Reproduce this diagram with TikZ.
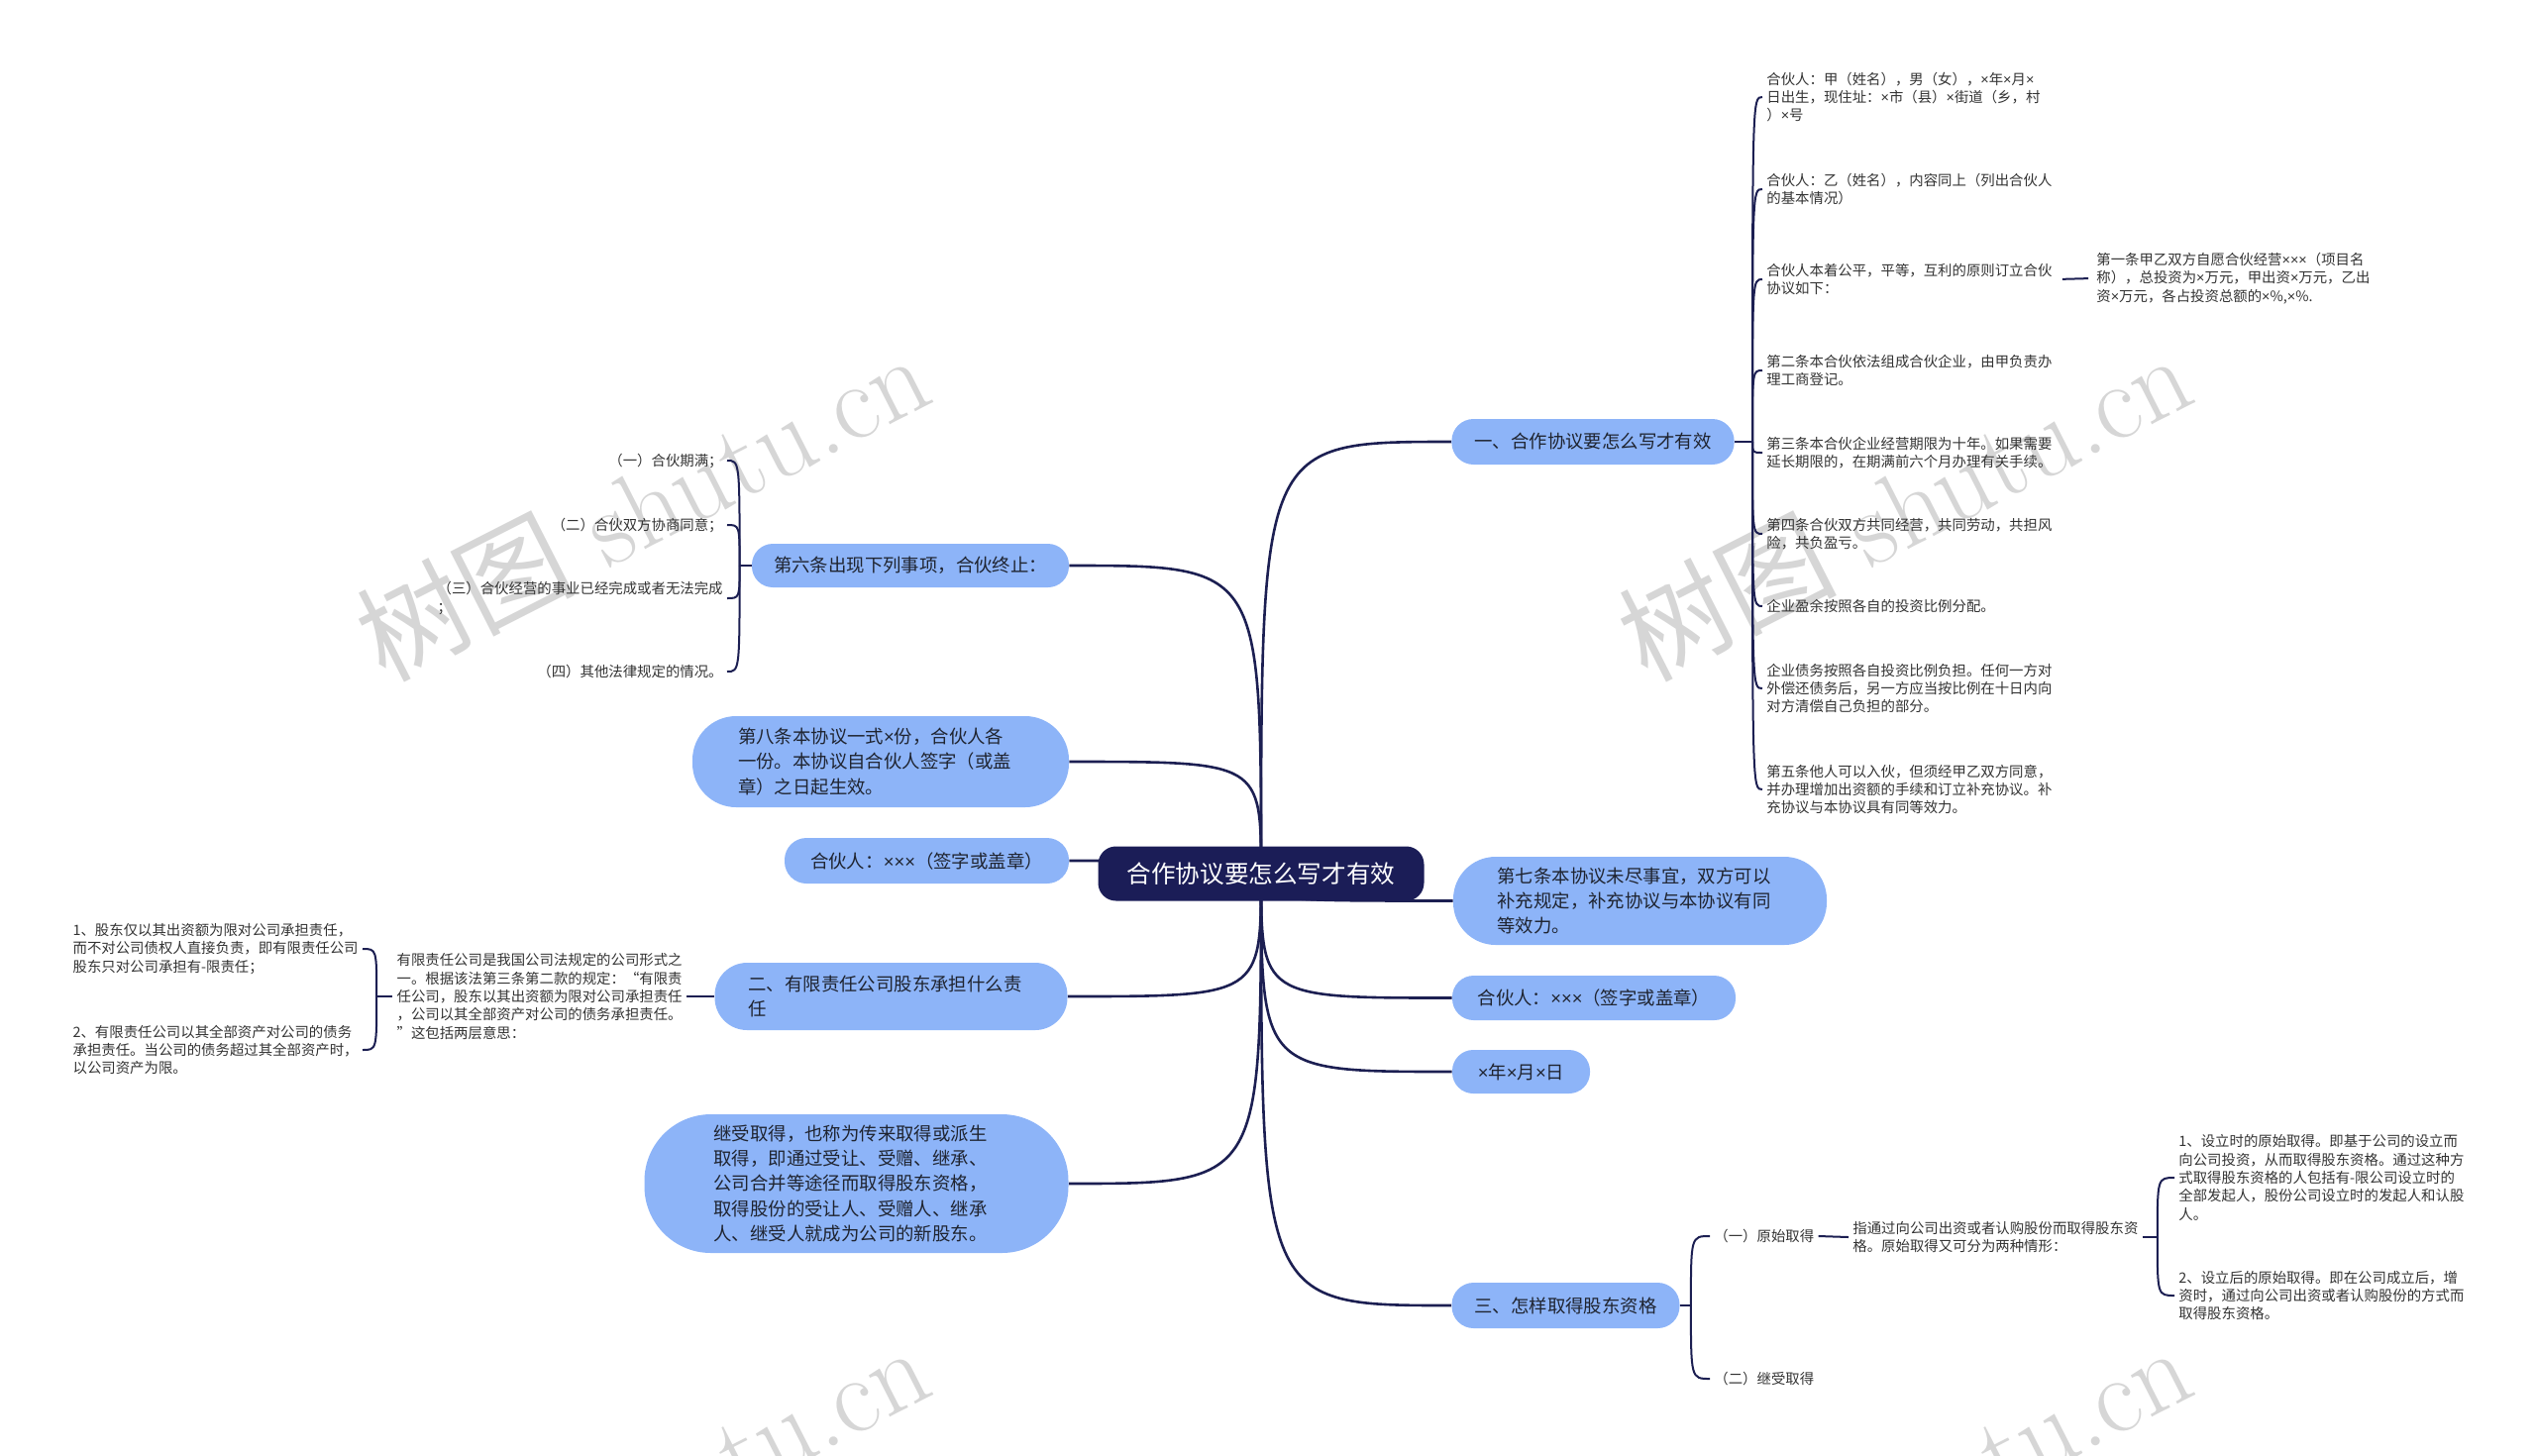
\documentclass[tikz,border=0pt]{standalone}
\usepackage{fontspec}
\newfontfamily\cjk{Noto Sans CJK SC}
\newfontfamily\latinsans{Liberation Sans}
\newcommand\xmul{{\latinsans ×}}
\usetikzlibrary{calc, positioning, backgrounds}

\definecolor{rootnavy}{HTML}{1B1D57}
\definecolor{linknavy}{HTML}{1C1F52}
\definecolor{topicblue}{HTML}{8DB4F8}
\definecolor{topictext}{HTML}{1F2430}
\definecolor{leaftext}{HTML}{333333}
\definecolor{markgray}{HTML}{D6D6D6}

\tikzset{
  root/.style={fill=rootnavy, text=white, rounded corners=9pt,
    minimum width=164.5pt, minimum height=27.5pt, inner sep=0pt,
    font=\cjk\fontsize{12.3}{14}\selectfont},
  topic/.style={fill=topicblue, text=topictext, align=left,
    minimum height=#1, inner xsep=#1*0.5, inner ysep=0pt,
    rounded corners=#1*0.48,
    font=\cjk\fontsize{9.2}{12.65}\selectfont},
  topic/.default=23pt,
  leaf/.style={text=leaftext, align=left, inner xsep=2pt, inner ysep=1pt,
    font=\cjk\fontsize{7.2}{9.2}\selectfont},
  branch/.style={draw=linknavy, line width=1.3pt},
  twig/.style={draw=linknavy, line width=1pt},
  watermark/.style={text=markgray, rotate=27, inner sep=0pt,
    font=\fontsize{55}{55}\selectfont},
}

\begin{document}
\begin{tikzpicture}[x=0.5pt,y=-0.5pt]
\useasboundingbox (0,0) rectangle (2560,1469);

% Central topic
\node[root] (root) at (1273,882) {合作协议要怎么写才有效};

% Main topics, right side
\node[topic=23pt, minimum width=142pt] (r1) at (1608,446) {一、合作协议要怎么写才有效};
\node[topic=44.5pt, text width=144pt] (r2) at (1655.5,909.5)
  {第七条本协议未尽事宜，双方可以\\补充规定，补充协议与本协议有同\\等效力。};
\node[topic=22.5pt, minimum width=143pt] (r3) at (1609,1007.5) {合伙人：\xmul\xmul\xmul（签字或盖章）};
\node[topic=22pt, minimum width=69.5pt] (r4) at (1535.5,1082) {\xmul 年\xmul 月\xmul 日};
\node[topic=23pt, minimum width=114.5pt] (r5) at (1580.5,1318) {三、怎样取得股东资格};

% Main topics, left side
\node[topic=22pt, minimum width=160pt] (l1) at (919,571) {第六条出现下列事项，合伙终止：};
\node[topic=46pt, text width=144pt] (l2) at (889,769)
  {第八条本协议一式\xmul 份，合伙人各\\一份。本协议自合伙人签字（或盖\\章）之日起生效。};
\node[topic=23pt, minimum width=143.5pt] (l3) at (935.5,869) {合伙人：\xmul\xmul\xmul（签字或盖章）};
\node[topic=34pt, text width=144pt] (l4) at (899.5,1006)
  {二、有限责任公司股东承担什么责\\任};
\node[topic=70pt, text width=144pt] (l5) at (864.5,1195)
  {继受取得，也称为传来取得或派生\\取得，即通过受让、受赠、继承、\\公司合并等途径而取得股东资格，\\取得股份的受让人、受赠人、继承\\人、继受人就成为公司的新股东。};

% Details of topic one
\node[leaf, anchor=west] (r1a) at (1779,98)
  {合伙人：甲（姓名），男（女），\xmul 年\xmul 月\xmul\\日出生，现住址：\xmul 市（县）\xmul 街道（乡，村\\）\xmul 号};
\node[leaf, anchor=west] (r1b) at (1779,191)
  {合伙人：乙（姓名），内容同上（列出合伙人\\的基本情况）};
\node[leaf, anchor=west] (r1c) at (1779,282)
  {合伙人本着公平，平等，互利的原则订立合伙\\协议如下：};
\node[leaf, anchor=west] (r1d) at (1779,374)
  {第二条本合伙依法组成合伙企业，由甲负责办\\理工商登记。};
\node[leaf, anchor=west] (r1e) at (1779,457)
  {第三条本合伙企业经营期限为十年。如果需要\\延长期限的，在期满前六个月办理有关手续。};
\node[leaf, anchor=west] (r1f) at (1779,539)
  {第四条合伙双方共同经营，共同劳动，共担风\\险，共负盈亏。};
\node[leaf, anchor=west] (r1g) at (1779,612)
  {企业盈余按照各自的投资比例分配。};
\node[leaf, anchor=west] (r1h) at (1779,695)
  {企业债务按照各自投资比例负担。任何一方对\\外偿还债务后，另一方应当按比例在十日内向\\对方清偿自己负担的部分。};
\node[leaf, anchor=west] (r1i) at (1779,797)
  {第五条他人可以入伙，但须经甲乙双方同意，\\并办理增加出资额的手续和订立补充协议。补\\充协议与本协议具有同等效力。};
\node[leaf, anchor=west] (r1c1) at (2112,281)
  {第一条甲乙双方自愿合伙经营\xmul\xmul\xmul（项目名\\称），总投资为\xmul 万元，甲出资\xmul 万元，乙出\\资\xmul 万元，各占投资总额的\xmul\%,\xmul\%.};

% Details of article six
\node[leaf, anchor=east] (l1a) at (734,465) {（一）合伙期满；};
\node[leaf, anchor=east] (l1b) at (734,530) {（二）合伙双方协商同意；};
\node[leaf, anchor=east] (l1c) at (734,604) {（三）合伙经营的事业已经完成或者无法完成\\；};
\node[leaf, anchor=east] (l1d) at (734,678) {（四）其他法律规定的情况。};

% Details of topic two
\node[leaf, anchor=east] (l4a) at (693,1006)
  {有限责任公司是我国公司法规定的公司形式之\\一。根据该法第三条第二款的规定：“有限责\\任公司，股东以其出资额为限对公司承担责任\\，公司以其全部资产对公司的债务承担责任。\\”这包括两层意思：};
\node[leaf, anchor=east] (l4a1) at (366,958)
  {1、股东仅以其出资额为限对公司承担责任，\\而不对公司债权人直接负责，即有限责任公司\\股东只对公司承担有-限责任；};
\node[leaf, anchor=east] (l4a2) at (366,1060)
  {2、有限责任公司以其全部资产对公司的债务\\承担责任。当公司的债务超过其全部资产时，\\以公司资产为限。};

% Details of topic three
\node[leaf, anchor=west] (r5a) at (1726,1248) {（一）原始取得};
\node[leaf, anchor=west] (r5b) at (1726,1392) {（二）继受取得};
\node[leaf, anchor=west] (r5a1) at (1866,1249)
  {指通过向公司出资或者认购股份而取得股东资\\格。原始取得又可分为两种情形：};
\node[leaf, anchor=west] (r5a1a) at (2195,1189)
  {1、设立时的原始取得。即基于公司的设立而\\向公司投资，从而取得股东资格。通过这种方\\式取得股东资格的人包括有-限公司设立时的\\全部发起人，股份公司设立时的发起人和认股\\人。};
\node[leaf, anchor=west] (r5a1b) at (2195,1308)
  {2、设立后的原始取得。即在公司成立后，增\\资时，通过向公司出资或者认购股份的方式而\\取得股东资格。};

\begin{scope}[on background layer]
  % Watermarks
  \begin{scope}
    \clip (0,0) rectangle (2560,1469);
    \foreach \wx/\wy in {648/510, 1922/510, 648/1512, 1922/1512}
      \node[watermark] at (\wx,\wy) {{\cjk 树图} shutu.cn};
  \end{scope}
  % Curves from the central topic
  \foreach \tgt in {l1,l2,l3,l4,l5}
    \draw[branch] (root.center) .. controls (root.center |- \tgt.east) .. (\tgt.east);
  \foreach \tgt in {r1,r2,r3,r4,r5}
    \draw[branch] (root.center) .. controls (root.center |- \tgt.west) .. (\tgt.west);
\end{scope}

% Forks to the details
\coordinate (r1fork) at ($(r1.east)+(18,0)$);
\draw[twig] (r1.east) -- (r1fork);
\foreach \c in {r1a,r1b,r1c,r1d,r1e,r1f,r1g,r1h,r1i}
  \draw[twig] (r1fork) .. controls (r1fork |- \c.west) .. (\c.west);
\draw[twig, shorten <=3pt, shorten >=2pt] (r1c.east) -- (r1c1.west);

\coordinate (l1fork) at ($(l1.west)+(-12,0)$);
\draw[twig] (l1.west) -- (l1fork);
\foreach \c in {l1a,l1b,l1c,l1d}
  \draw[twig] (l1fork) .. controls (l1fork |- \c.east) .. (\c.east);

\draw[twig] (l4.west) -- (l4a.east);
\coordinate (l4fork) at ($(l4a.west)+(-16,0)$);
\draw[twig] (l4a.west) -- (l4fork);
\foreach \c in {l4a1,l4a2}
  \draw[twig] (l4fork) .. controls (l4fork |- \c.east) .. (\c.east);

\coordinate (r5fork) at ($(r5.east)+(11,0)$);
\draw[twig] (r5.east) -- (r5fork);
\foreach \c in {r5a,r5b}
  \draw[twig] (r5fork) .. controls (r5fork |- \c.west) .. (\c.west);
\draw[twig] (r5a.east) -- (r5a1.west);
\coordinate (r5a1fork) at ($(r5a1.east)+(15,0)$);
\draw[twig] (r5a1.east) -- (r5a1fork);
\foreach \c in {r5a1a,r5a1b}
  \draw[twig] (r5a1fork) .. controls (r5a1fork |- \c.west) .. (\c.west);
\end{tikzpicture}
\end{document}
